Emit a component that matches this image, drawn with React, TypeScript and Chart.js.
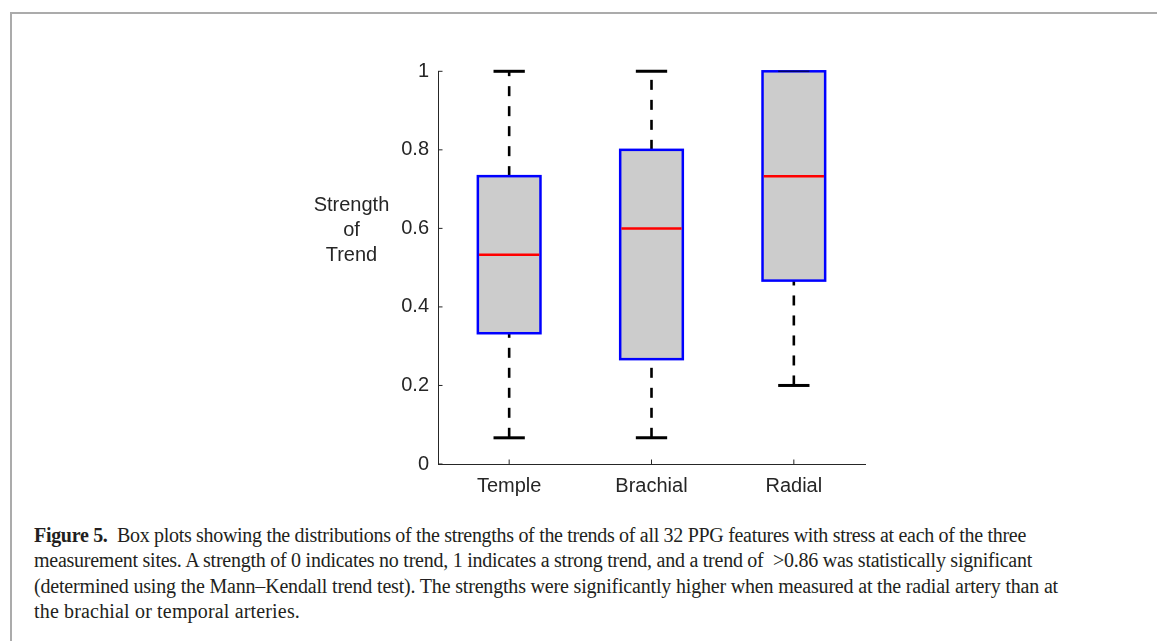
import React, { useEffect, useLayoutEffect, useRef, useState } from "react";
import { Chart, registerables } from "chart.js";

Chart.register(...registerables);

// ---- data ----
const categories = ["Temple", "Brachial", "Radial"];
const whiskerLow = [0.0667, 0.0667, 0.2];
const quartile1 = [0.333, 0.267, 0.467];
const medians = [0.533, 0.6, 0.733];
const quartile3 = [0.733, 0.8, 1.0];
const whiskerHigh = [1.0, 1.0, 1.0];
const yTicks = [0, 0.2, 0.4, 0.6, 0.8, 1];

const yLabelLines = ["Strength", "of", "Trend"];
const captionBold = ["Figure 5.", "", "", ""];
const captionText = [
  "  Box plots showing the distributions of the strengths of the trends of all 32 PPG features with stress at each of the three",
  "measurement sites. A strength of 0 indicates no trend, 1 indicates a strong trend, and a trend of  >0.86 was statistically significant",
  "(determined using the Mann\u2013Kendall trend test). The strengths were significantly higher when measured at the radial artery than at",
  "the brachial or temporal arteries.",
];
const captionLineEnds = [1026, 1032, 1058, 300];
const CAPTION_LEFT = 34;

const AXIS_COLOR = "#262626";
const FONT = "'Liberation Sans', Arial, sans-serif";

const boxPlugin = {
  id: "boxPlot",
  beforeDatasetsDraw(chart: any) {
    const ctx = chart.ctx;
    const y = chart.scales.y;
    const meta = chart.getDatasetMeta(0);
    ctx.save();
    ctx.strokeStyle = "#000000";
    ctx.lineWidth = 2.6;
    ctx.setLineDash([10, 10]);
    meta.data.forEach((bar: any, i: number) => {
      const x = bar.x;
      ctx.beginPath();
      ctx.moveTo(x, y.getPixelForValue(whiskerLow[i]));
      ctx.lineTo(x, y.getPixelForValue(quartile1[i]));
      ctx.stroke();
      ctx.beginPath();
      ctx.moveTo(x, y.getPixelForValue(quartile3[i]));
      ctx.lineTo(x, y.getPixelForValue(whiskerHigh[i]));
      ctx.stroke();
    });
    ctx.restore();
  },
  afterDatasetsDraw(chart: any) {
    const ctx = chart.ctx;
    const y = chart.scales.y;
    const meta = chart.getDatasetMeta(0);
    ctx.save();
    meta.data.forEach((bar: any, i: number) => {
      const x = bar.x;
      const half = bar.width / 2;
      const top = y.getPixelForValue(quartile3[i]);
      const bottom = y.getPixelForValue(quartile1[i]);
      const capHalf = bar.width / 4;
      const onEdge = (py: number) => Math.abs(py - top) < 0.5 || Math.abs(py - bottom) < 0.5;
      // caps
      ctx.strokeStyle = "#000000";
      ctx.lineWidth = 3;
      [whiskerLow[i], whiskerHigh[i]].forEach((v) => {
        const py = y.getPixelForValue(v);
        if (onEdge(py)) return;
        ctx.beginPath();
        ctx.moveTo(x - capHalf, py);
        ctx.lineTo(x + capHalf, py);
        ctx.stroke();
      });
      // box outline
      ctx.strokeStyle = "#0000ff";
      ctx.lineWidth = 2.5;
      ctx.strokeRect(x - half, top, half * 2, bottom - top);
      // cap coinciding with box edge
      [whiskerLow[i], whiskerHigh[i]].forEach((v) => {
        const py = y.getPixelForValue(v);
        if (!onEdge(py)) return;
        ctx.strokeStyle = "rgba(0,0,90,0.9)";
        ctx.lineWidth = 1.5;
        ctx.beginPath();
        ctx.moveTo(x - capHalf, py);
        ctx.lineTo(x + capHalf, py);
        ctx.stroke();
      });
      // median
      ctx.strokeStyle = "#ff0000";
      ctx.lineWidth = 2.5;
      const my = y.getPixelForValue(medians[i]);
      ctx.beginPath();
      ctx.moveTo(x - half + 1.2, my);
      ctx.lineTo(x + half - 1.2, my);
      ctx.stroke();
    });
    ctx.restore();
  },
  afterDraw(chart: any) {
    const ctx = chart.ctx;
    const { left, bottom } = chart.chartArea;
    const y = chart.scales.y;
    const x = chart.scales.x;
    ctx.save();
    ctx.strokeStyle = AXIS_COLOR;
    ctx.lineWidth = 1;
    yTicks.forEach((v) => {
      const py = y.getPixelForValue(v);
      ctx.beginPath();
      ctx.moveTo(left, py);
      ctx.lineTo(left + 4.5, py);
      ctx.stroke();
    });
    categories.forEach((_, i) => {
      const px = x.getPixelForValue(i);
      ctx.beginPath();
      ctx.moveTo(px, bottom);
      ctx.lineTo(px, bottom - 4.5);
      ctx.stroke();
    });
    ctx.restore();
  },
};

function BoxChart() {
  const ref = useRef<HTMLCanvasElement | null>(null);
  useEffect(() => {
    if (!ref.current) return;
    const chart = new Chart(ref.current, {
      type: "bar",
      data: {
        labels: categories,
        datasets: [
          {
            data: categories.map((_, i) => [quartile1[i], quartile3[i]]) as any,
            backgroundColor: "#cccccc",
            borderWidth: 0,
            barPercentage: 0.44,
            categoryPercentage: 1,
          },
        ],
      },
      options: {
        animation: false,
        responsive: false,
        maintainAspectRatio: false,
        events: [],
        layout: { padding: { left: 0, top: 71.3, right: 292, bottom: 0 } },
        plugins: { legend: { display: false }, tooltip: { enabled: false } },
        scales: {
          x: {
            type: "category",
            offset: true,
            grid: { display: false, drawTicks: false },
            border: { display: true, color: AXIS_COLOR, width: 1 },
            ticks: {
              color: AXIS_COLOR,
              padding: 10,
              font: { family: FONT, size: 20 },
              maxRotation: 0,
            },
            afterFit: (s: any) => {
              s.height = 36;
            },
          },
          y: {
            type: "linear",
            min: 0,
            max: 1,
            grid: { display: false, drawTicks: false },
            border: { display: true, color: AXIS_COLOR, width: 1 },
            afterBuildTicks: (s: any) => {
              s.ticks = yTicks.map((v) => ({ value: v }));
            },
            ticks: {
              color: AXIS_COLOR,
              padding: 9,
              font: { family: FONT, size: 20 },
              callback: (v: any) => String(Math.round(Number(v) * 10) / 10),
            },
            afterFit: (s: any) => {
              s.width = 438;
            },
          },
        },
      },
      plugins: [boxPlugin],
    });
    return () => chart.destroy();
  }, []);
  return (
    <canvas
      ref={ref}
      width={1157}
      height={500}
      style={{ position: "absolute", left: 0, top: 0, width: 1157, height: 500 }}
    />
  );
}

function CaptionLine({ bold, text, end }: { bold: string; text: string; end: number }) {
  const ref = useRef<HTMLSpanElement | null>(null);
  const [ls, setLs] = useState(0);
  useLayoutEffect(() => {
    if (!ref.current) return;
    const w = ref.current.getBoundingClientRect().width;
    const n = (bold + text).length;
    const target = end - CAPTION_LEFT;
    setLs((target - w) / n);
  }, [bold, text, end]);
  return (
    <div>
      <span ref={ref} style={{ letterSpacing: ls === 0 ? undefined : ls + "px" }}>
        {bold ? <b>{bold}</b> : null}
        {text}
      </span>
    </div>
  );
}

export default function App() {
  return (
    <div
      style={{
        position: "absolute",
        left: 0,
        top: 0,
        width: 1157,
        height: 641,
        overflow: "hidden",
        background: "#ffffff",
      }}
    >
      <div
        style={{
          position: "absolute",
          left: 10,
          top: 12,
          width: 1300,
          height: 800,
          borderTop: "2px solid #ababab",
          borderLeft: "2px solid #ababab",
        }}
      />
      <BoxChart />
      <div
        style={{
          position: "absolute",
          left: 291.5,
          top: 192.3,
          width: 120,
          textAlign: "center",
          fontFamily: FONT,
          fontSize: 20,
          lineHeight: "25px",
          color: AXIS_COLOR,
        }}
      >
        {yLabelLines.map((l, i) => (
          <div key={i}>{l}</div>
        ))}
      </div>
      <div
        style={{
          position: "absolute",
          left: CAPTION_LEFT,
          top: 522.5,
          fontFamily: "'Liberation Serif', 'Times New Roman', serif",
          fontSize: 20,
          lineHeight: "25.5px",
          color: "#231f20",
          whiteSpace: "pre",
        }}
      >
        {captionText.map((t, i) => (
          <CaptionLine key={i} bold={captionBold[i]} text={t} end={captionLineEnds[i]} />
        ))}
      </div>
    </div>
  );
}
